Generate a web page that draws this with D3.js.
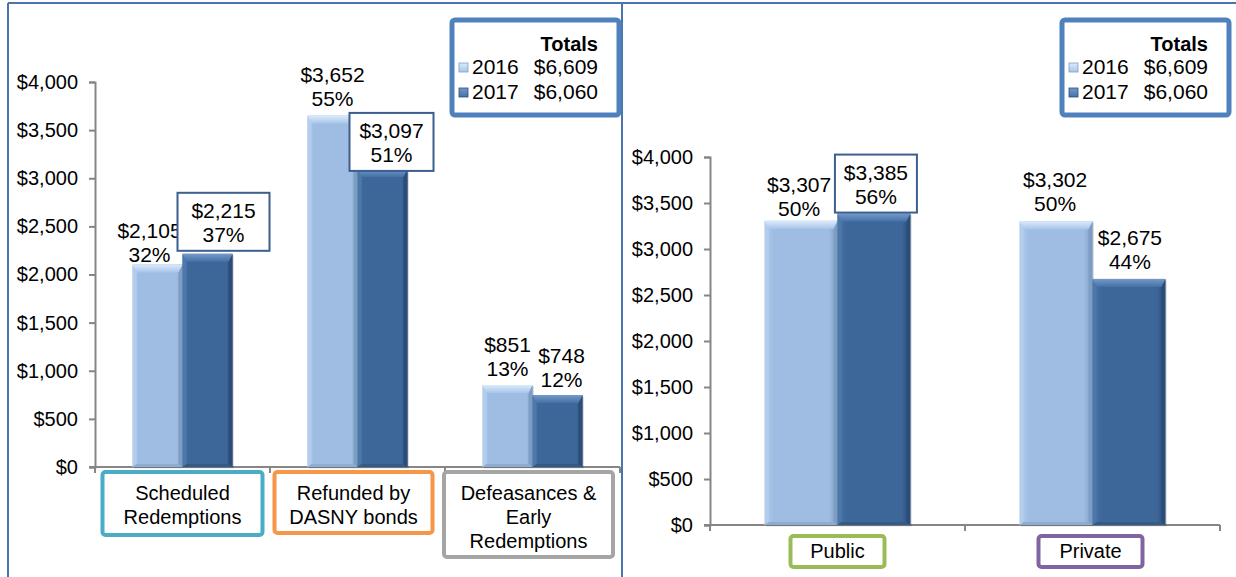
<!DOCTYPE html>
<html>
<head>
<meta charset="utf-8">
<script src="https://cdn.jsdelivr.net/npm/d3@7"></script>
<style>
  body { margin: 0; background: #fff; }
  svg { display: block; font-family: "Liberation Sans", Arial, sans-serif; }
</style>
</head>
<body>
<div id="vis"></div>
<script>
// ---- data ----
const years = ["2016", "2017"];
const totals = [6609, 6060];

const leftCategories = ["Scheduled Redemptions", "Refunded by DASNY bonds", "Defeasances & Early Redemptions"];
const leftCategoryLines = [["Scheduled", "Redemptions"], ["Refunded by", "DASNY bonds"], ["Defeasances &", "Early", "Redemptions"]];
const left2016 = [2105, 3652, 851];
const left2017 = [2215, 3097, 748];
const leftPct2016 = ["32%", "55%", "13%"];
const leftPct2017 = ["37%", "51%", "12%"];

const rightCategories = ["Public", "Private"];
const rightCategoryLines = [["Public"], ["Private"]];
const right2016 = [3307, 3302];
const right2017 = [3385, 2675];
const rightPct2016 = ["50%", "50%"];
const rightPct2017 = ["56%", "44%"];

const yTicks = [0, 500, 1000, 1500, 2000, 2500, 3000, 3500, 4000];

// ---- styles / layout ----
const fmtMoney = d => "$" + d3.format(",")(d);
const FONT = 20;
const axisColor = "#868686";
const frameColor = "#4a74ad";
const legendColor = "#4f81bd";
const boxColor = "#3b5f8f";
const pal = {
  "2016": { base: "#9fbde3", topA: "#dcebfa", topB: "#a8c5ea", left: "#b4cdec", right: "#7f9dc4", bottom: "#8eabd2" },
  "2017": { base: "#3d6798", topA: "#7499c9", topB: "#4571a6", left: "#4c78ac", right: "#2b4d7a", bottom: "#335a89" }
};

const width = 1236, height = 577;
const svg = d3.select("#vis").append("svg").attr("width", width).attr("height", height);

const defs = svg.append("defs");
years.forEach(yr => {
  const g = defs.append("linearGradient").attr("id", "top" + yr).attr("x1", 0).attr("y1", 0).attr("x2", 0).attr("y2", 1);
  g.append("stop").attr("offset", "0%").attr("stop-color", pal[yr].topA);
  g.append("stop").attr("offset", "100%").attr("stop-color", pal[yr].topB);
  const h = defs.append("linearGradient").attr("id", "body" + yr).attr("x1", 0).attr("y1", 0).attr("x2", 1).attr("y2", 0);
  h.append("stop").attr("offset", "0%").attr("stop-color", pal[yr].left);
  h.append("stop").attr("offset", "12%").attr("stop-color", pal[yr].base);
  h.append("stop").attr("offset", "88%").attr("stop-color", pal[yr].base);
  h.append("stop").attr("offset", "100%").attr("stop-color", pal[yr].right);
});

// outer frame
svg.append("line").attr("x1", 8).attr("x2", width).attr("y1", 3).attr("y2", 3).attr("stroke", frameColor).attr("stroke-width", 2);
svg.append("line").attr("x1", 8).attr("x2", 8).attr("y1", 3).attr("y2", height).attr("stroke", frameColor).attr("stroke-width", 2);
svg.append("line").attr("x1", 622).attr("x2", 622).attr("y1", 3).attr("y2", height).attr("stroke", frameColor).attr("stroke-width", 2);

function drawBar(g, x, w, yTop, yBase, yr) {
  const p = pal[yr];
  const h = yBase - yTop;
  const b = Math.min(8, h / 2), s = 4, bb = 3;
  const bar = g.append("g");
  bar.append("rect").attr("x", x + 1.5).attr("y", yTop + 1.5).attr("width", w).attr("height", h)
    .attr("fill", "#000").attr("opacity", 0.12);
  bar.append("rect").attr("x", x).attr("y", yTop).attr("width", w).attr("height", h).attr("fill", `url(#body${yr})`);
  bar.append("polygon").attr("fill", p.left)
    .attr("points", [[x, yTop], [x + s, yTop + b], [x + s, yBase - bb], [x, yBase]].join(" "));
  bar.append("polygon").attr("fill", p.right)
    .attr("points", [[x + w, yTop], [x + w - s, yTop + b], [x + w - s, yBase - bb], [x + w, yBase]].join(" "));
  bar.append("polygon").attr("fill", p.bottom)
    .attr("points", [[x, yBase], [x + s, yBase - bb], [x + w - s, yBase - bb], [x + w, yBase]].join(" "));
  bar.append("polygon").attr("fill", `url(#top${yr})`)
    .attr("points", [[x, yTop], [x + w, yTop], [x + w - s, yTop + b], [x + s, yTop + b]].join(" "));
}

function drawLegend(g, x, y) {
  const lg = g.append("g").attr("transform", `translate(${x},${y})`);
  lg.append("rect").attr("width", 167).attr("height", 95).attr("rx", 3)
    .attr("fill", "#fff").attr("stroke", legendColor).attr("stroke-width", 5);
  lg.append("text").attr("x", 146).attr("y", 24).attr("dy", "0.35em").attr("text-anchor", "end")
    .attr("font-size", FONT).attr("font-weight", "bold").text("Totals");
  years.forEach((yr, i) => {
    const cy = 47 + i * 25;
    lg.append("rect").attr("x", 7).attr("y", cy - 4).attr("width", 9).attr("height", 9).attr("fill", `url(#top${yr})`)
      .attr("stroke", pal[yr].right).attr("stroke-width", 0.8);
    lg.append("text").attr("x", 20).attr("y", cy).attr("dy", "0.35em").attr("font-size", FONT + 1).text(yr);
    lg.append("text").attr("x", 146).attr("y", cy).attr("dy", "0.35em").attr("text-anchor", "end")
      .attr("font-size", FONT + 1).text(fmtMoney(totals[i]));
  });
}

function drawPanel(cfg) {
  const g = svg.append("g");
  const x = d3.scaleBand().domain(cfg.categories).range([cfg.xLeft, cfg.xRight]).padding(0);
  const x1 = d3.scaleBand().domain(years).range([0, x.bandwidth()]).paddingInner(0).paddingOuter(0.75);
  const y = d3.scaleLinear().domain([0, 4000]).range([cfg.yBase, cfg.yTop]);

  // y axis
  const ya = g.append("g").attr("transform", `translate(${cfg.xLeft},0)`)
    .call(d3.axisLeft(y).tickValues(yTicks).tickFormat(fmtMoney).tickSizeOuter(0).tickSize(6).tickPadding(11));
  ya.select(".domain").attr("stroke", axisColor).attr("stroke-width", 2);
  ya.selectAll(".tick line").attr("stroke", axisColor).attr("stroke-width", 2);
  ya.selectAll(".tick text").attr("font-size", FONT).attr("fill", "#000").attr("font-family", "Liberation Sans, Arial, sans-serif");

  // x axis line with boundary ticks
  g.append("line").attr("x1", cfg.xLeft - 6).attr("x2", cfg.xRight).attr("y1", cfg.yBase).attr("y2", cfg.yBase)
    .attr("stroke", axisColor).attr("stroke-width", 2);
  const bounds = cfg.categories.map(c => x(c)).concat([cfg.xRight]);
  g.selectAll(".xt").data(bounds).join("line").attr("class", "xt")
    .attr("x1", d => d).attr("x2", d => d).attr("y1", cfg.yBase).attr("y2", cfg.yBase + 6)
    .attr("stroke", axisColor).attr("stroke-width", 2);

  // bars
  const series = [cfg.v2016, cfg.v2017];
  const pcts = [cfg.p2016, cfg.p2017];
  cfg.categories.forEach((c, ci) => {
    years.forEach((yr, yi) => {
      drawBar(g, x(c) + x1(yr), x1.bandwidth(), y(series[yi][ci]), y(0), yr);
    });
  });

  // data labels: [dx, gap above bar, box width or 0]
  const LH = 24;
  cfg.categories.forEach((c, ci) => {
    years.forEach((yr, yi) => {
      const v = series[yi][ci];
      const [dx, gap, boxW] = cfg.labelPos[ci][yi];
      const cx = x(c) + x1(yr) + x1.bandwidth() / 2 + dx;
      const l2 = y(v) - gap, l1 = l2 - LH;
      if (boxW) {
        g.append("rect").attr("x", cx - boxW / 2).attr("y", l1 - 18).attr("width", boxW).attr("height", (l2 + 16) - (l1 - 18))
          .attr("fill", "#fff").attr("stroke", boxColor).attr("stroke-width", 2);
      }
      [fmtMoney(v), pcts[yi][ci]].forEach((t, li) => {
        g.append("text").attr("x", cx).attr("y", li ? l2 : l1).attr("dy", "0.35em").attr("text-anchor", "middle")
          .attr("font-size", FONT + 1).text(t);
      });
    });
  });

  // category boxes
  cfg.categories.forEach((c, ci) => {
    const lines = cfg.lines[ci];
    const [bw, bdx, bh] = cfg.catBox[ci];
    const cx = x(c) + x.bandwidth() / 2 + bdx;
    const top = cfg.yBase + cfg.catTop;
    g.append("rect").attr("x", cx - bw / 2).attr("y", top).attr("width", bw).attr("height", bh).attr("rx", 3)
      .attr("fill", "#fff").attr("stroke", cfg.catColors[ci]).attr("stroke-width", 4);
    lines.forEach((t, li) => {
      g.append("text").attr("x", cx).attr("y", top + cfg.catFirst + li * 24).attr("dy", "0.35em")
        .attr("text-anchor", "middle").attr("font-size", FONT).text(t);
    });
  });

  drawLegend(g, cfg.legendX, 20);
}

drawPanel({
  categories: leftCategories, lines: leftCategoryLines,
  v2016: left2016, v2017: left2017, p2016: leftPct2016, p2017: leftPct2017,
  xLeft: 95, xRight: 620, yBase: 467, yTop: 82,
  labelPos: [[[-8, 10, 0], [16, 19, 92]], [[0, 17, 0], [9, 14, 84]], [[0, 16, 0], [4, 15, 0]]],
  catColors: ["#4bacc6", "#f79646", "#a5a5a5"],
  catBox: [[160, 0, 63], [158, -4, 61], [169, -4, 85]],
  catTop: 5, catFirst: 21,
  legendX: 452
});

drawPanel({
  categories: rightCategories, lines: rightCategoryLines,
  v2016: right2016, v2017: right2017, p2016: rightPct2016, p2017: rightPct2017,
  xLeft: 710, xRight: 1220, yBase: 525, yTop: 157,
  labelPos: [[[-2, 12, 0], [2, 17, 82]], [[-1, 18, 0], [1, 17, 0]]],
  catColors: ["#9bbb59", "#8064a2"],
  catBox: [[94, 0, 31], [104, -2, 31]],
  catTop: 11, catFirst: 15,
  legendX: 1062
});
</script>
</body>
</html>
